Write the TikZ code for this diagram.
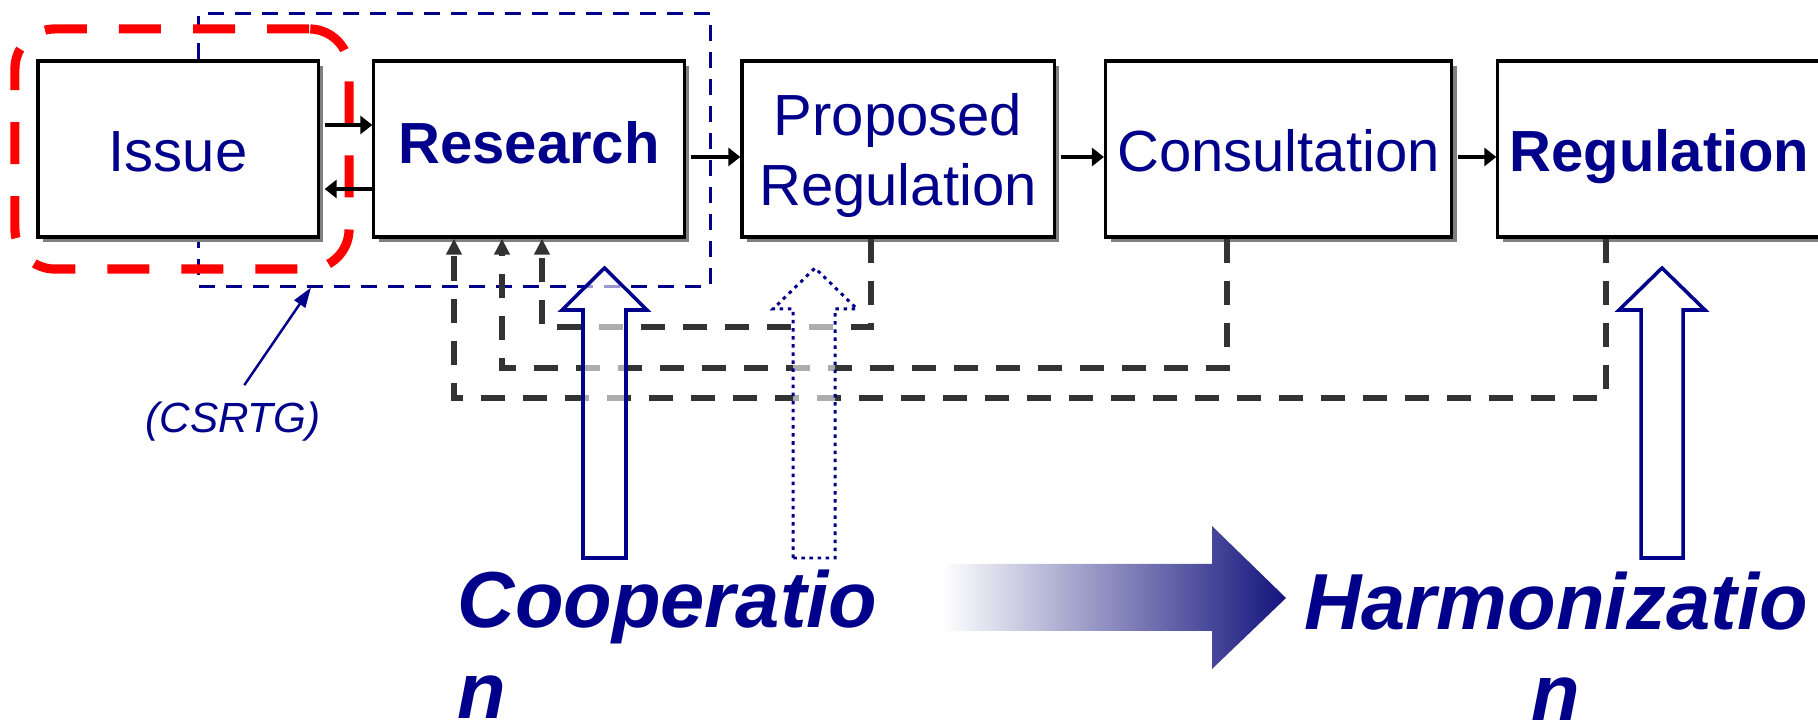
\documentclass[tikz,border=0pt]{standalone}
\usepackage{fontspec}
\setmainfont{Liberation Sans}
\usetikzlibrary{arrows.meta,shadows}
\definecolor{navy}{RGB}{0,0,139}
\definecolor{fbgray}{RGB}{51,51,51}
\definecolor{arrowblue}{RGB}{20,20,125}

\begin{document}
\begin{tikzpicture}[x=0.01cm,y=-0.01cm]
\tikzstyle{blk}= [rectangle,draw,line width=0.9pt,fill=white,minimum height=1.76cm,
	text=navy,font=\fontsize{16.5}{19.9}\selectfont,text height=13pt,text depth=0pt,
	drop shadow={shadow xshift=0.05cm,shadow yshift=-0.05cm,fill=gray,opacity=1}]
\tikzstyle{bld}= [font=\fontsize{16.5}{19.9}\selectfont\bfseries]
\tikzstyle{flow}= [-{Triangle[length=0.12cm,width=0.18cm]},line width=1.4pt]
\tikzstyle{fb}= [-{Triangle[length=0.16cm,width=0.15cm]},line width=1.6pt,fbgray,
	dash pattern=on 0.24cm off 0.18cm]
\tikzstyle{hollow}= [draw=navy,line width=1pt,fill=white,fill opacity=0.6]
\tikzstyle{big}= [inner sep=0pt,text=navy,font=\fontsize{22.6}{25.9}\selectfont\bfseries\itshape]
\useasboundingbox (0,0) rectangle (1818,728);

% the two groups round Issue and Research
\node[draw=navy,line width=0.85pt,dash pattern=on 0.16cm off 0.11cm,
	minimum width=5.11cm,minimum height=2.72cm] (grp) at (454.5,150) {};
\node[draw=red,line width=2.6pt,dash pattern=on 0.42cm off 0.32cm,rounded corners=0.4cm,
	minimum width=3.34cm,minimum height=2.40cm] (csrtgbox) at (182,149) {};

\path
	( 178,149) node[blk,minimum width=2.80cm] (issue) {Issue}
	( 529,149) node[blk,bld,minimum width=3.10cm,text depth=4.5pt] (res) {Research}
	( 898,149) node[blk,minimum width=3.12cm,align=center,text height={},text depth=0pt] (prop) {Proposed\\Regulation}
	(1278.5,149) node[blk,minimum width=3.37cm] (cons) {Consultation}
	(1659.5,149) node[blk,bld,minimum width=3.10cm] (regl) {Regulation}
;

\coordinate (hiA) at (0,125);
\coordinate (loA) at (0,189);
\coordinate (mid) at (0,157);
\draw[flow,shorten <=0.05cm] (issue.east |- hiA) -- (res.west |- hiA);
\draw[flow,shorten >=0.05cm] (res.west |- loA) -- (issue.east |- loA);
\draw[flow,shorten <=0.05cm] (res.east |- mid) -- (prop.west |- mid);
\draw[flow,shorten <=0.05cm] (prop.east |- mid) -- (cons.west |- mid);
\draw[flow,shorten <=0.05cm] (cons.east |- mid) -- (regl.west |- mid);

% feedback to research
\coordinate (fbP) at (542,327);
\coordinate (fbC) at (502,368);
\coordinate (fbR) at (454,398);
\draw[fb] ([xshift=-0.27cm]prop.south) |- (fbP) -- (res.south -| fbP);
\draw[fb] ([xshift=-0.515cm]cons.south) |- (fbC) -- (res.south -| fbC);
\draw[fb] ([xshift=-0.535cm]regl.south) |- (fbR) -- (res.south -| fbR);

% block arrows
\draw[hollow] (583,558) -- (583,310) -- (562,310) -- (604.5,268) -- (647,310) -- (626,310) -- (626,558) -- cycle;
\draw[hollow,dash pattern=on 1pt off 1.3pt,line width=0.85pt] (793,558) -- (793,309) -- (773,309) -- (815,268) -- (857,309) -- (835,309) -- (835,558) -- cycle;
\draw[hollow] (1641,558) -- (1641,310) -- (1619,310) -- (1662,268) -- (1705,310) -- (1683,310) -- (1683,558) -- cycle;
\shade[left color=white,right color=arrowblue] (943,564) -- (1212,564) -- (1212,526) -- (1286,598) -- (1212,669) -- (1212,631) -- (943,631) -- cycle;

\node[big,align=left,anchor=north west] (coop) at (457,569) {Cooperatio\\n};
\node[big,align=center,anchor=north] (harm) at (1556,571) {Harmonizatio\\n};

\node[text=navy,inner sep=0pt,font=\fontsize{12}{14}\selectfont\itshape] (csrtg) at (233,422) {(CSRTG)};
\coordinate (grpB) at (311,0);
\draw[-{Triangle[length=0.2cm,width=0.13cm]},navy,line width=0.7pt,shorten <=0.2cm]
	(csrtg.north) -- (grp.south -| grpB);
\end{tikzpicture}
\end{document}
